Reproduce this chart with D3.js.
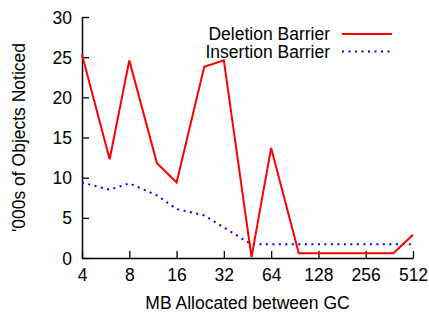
<!DOCTYPE html>
<html>
<head>
<meta charset="utf-8">
<script src="https://cdn.jsdelivr.net/npm/d3@7"></script>
<style>
  body { margin: 0; background: #fff; }
  text { font-family: "Liberation Sans", Arial, sans-serif; fill: #000; }
</style>
</head>
<body>
<div id="chart"></div>
<script>
// data
var mbAllocated = [4, 6, 8, 12, 16, 24, 32, 48, 64, 96, 128, 192, 256, 384, 512];
var deletionBarrier = [25.3, 12.3, 24.6, 11.8, 9.4, 23.8, 24.6, 0.1, 13.7, 0.6, 0.6, 0.6, 0.6, 0.6, 2.9];
var insertionBarrier = [9.4, 8.5, 9.3, 7.8, 6.1, 5.3, 3.8, 1.7, 1.7, 1.7, 1.7, 1.7, 1.7, 1.7, 1.7];
var xTicks = [4, 8, 16, 32, 64, 128, 256, 512];
var yTicks = [0, 5, 10, 15, 20, 25, 30];

var width = 429, height = 316;
var plotLeft = 82, plotRight = 413, plotTop = 17, plotBottom = 258;
var fontSize = "17.5px";

var svg = d3.select("#chart").append("svg")
  .attr("width", width)
  .attr("height", height);

var x = d3.scaleLog().base(2).domain([4, 512]).range([plotLeft, plotRight]);
var y = d3.scaleLinear().domain([0, 30]).range([plotBottom, plotTop]);

// axes, ticks pointing inward
var xAxis = d3.axisBottom(x).tickValues(xTicks).tickFormat(d3.format("d"))
  .tickSizeInner(-7).tickSizeOuter(0).tickPadding(11);
var yAxis = d3.axisLeft(y).tickValues(yTicks)
  .tickSizeInner(-7).tickSizeOuter(0).tickPadding(10);

var gx = svg.append("g").attr("transform", "translate(0," + plotBottom + ")").call(xAxis);
var gy = svg.append("g").attr("transform", "translate(" + plotLeft + ",0)").call(yAxis);

[gx, gy].forEach(function (g) {
  g.attr("font-family", null).attr("font-size", null);
  g.selectAll("path").attr("stroke", "#000").attr("stroke-width", 1.5);
  g.selectAll("line").attr("stroke", "#000").attr("stroke-width", 1.3);
  g.selectAll("text").style("font-size", fontSize);
});
gx.selectAll("text").attr("dy", "0.71em");
gy.selectAll("text").attr("dy", "0.35em");

// lines
var line = d3.line()
  .x(function (d) { return x(d[0]); })
  .y(function (d) { return y(d[1]); });

svg.append("path")
  .datum(d3.zip(mbAllocated, insertionBarrier))
  .attr("fill", "none")
  .attr("stroke", "#0000ff")
  .attr("stroke-width", 2)
  .attr("stroke-dasharray", "2,4.5")
  .attr("d", line);

svg.append("path")
  .datum(d3.zip(mbAllocated, deletionBarrier))
  .attr("fill", "none")
  .attr("stroke", "#ff0000")
  .attr("stroke-width", 2)
  .attr("d", line);

// legend
var legend = [
  { name: "Deletion Barrier", color: "#ff0000", dash: null, y: 34 },
  { name: "Insertion Barrier", color: "#0000ff", dash: "2,4.5", y: 51.5 }
];
legend.forEach(function (l) {
  svg.append("text")
    .attr("x", 330).attr("y", l.y)
    .attr("dy", "0.35em")
    .attr("text-anchor", "end")
    .style("font-size", fontSize)
    .text(l.name);
  svg.append("line")
    .attr("x1", 342).attr("x2", 392)
    .attr("y1", l.y).attr("y2", l.y)
    .attr("stroke", l.color)
    .attr("stroke-width", 2)
    .attr("stroke-dasharray", l.dash);
});

// axis titles
svg.append("text")
  .attr("x", (plotLeft + plotRight) / 2).attr("y", 309)
  .attr("text-anchor", "middle")
  .style("font-size", fontSize)
  .text("MB Allocated between GC");

svg.append("text")
  .attr("transform", "translate(25," + ((plotTop + plotBottom) / 2) + ") rotate(-90)")
  .attr("text-anchor", "middle")
  .style("font-size", fontSize)
  .text("'000s of Objects Noticed");
</script>
</body>
</html>
